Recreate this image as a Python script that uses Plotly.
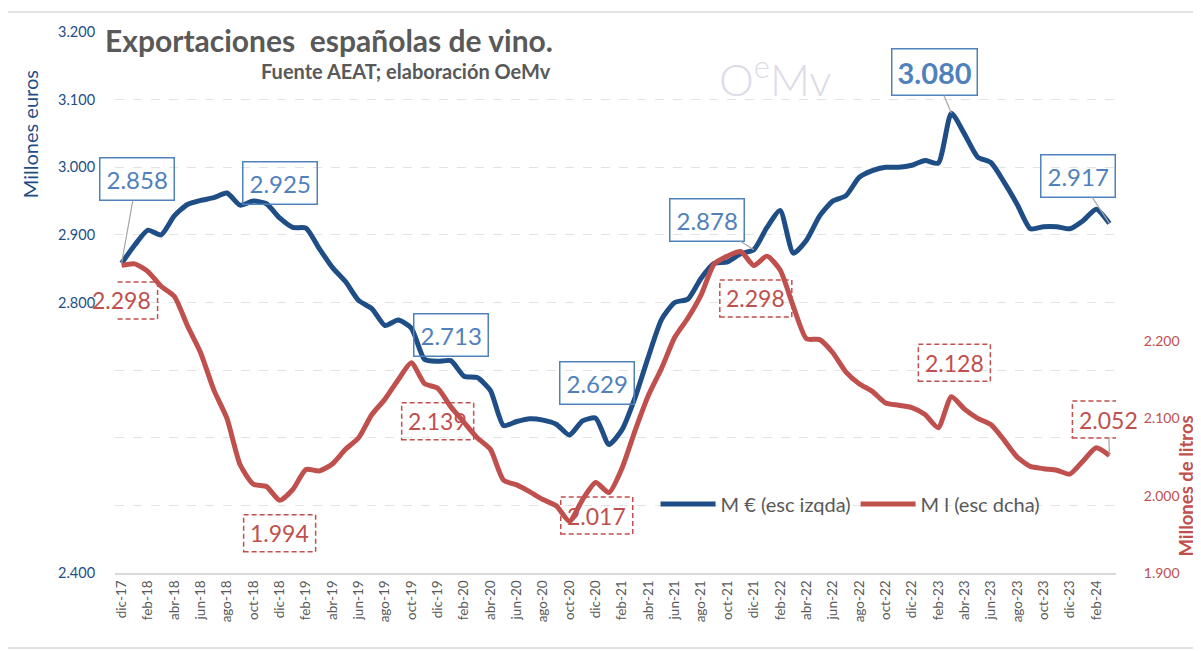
import plotly.graph_objects as go

# ---------------- data ----------------
months = [
    "dic-17",
    "ene-18", "feb-18", "mar-18", "abr-18", "may-18", "jun-18", "jul-18", "ago-18", "sep-18", "oct-18", "nov-18", "dic-18",
    "ene-19", "feb-19", "mar-19", "abr-19", "may-19", "jun-19", "jul-19", "ago-19", "sep-19", "oct-19", "nov-19", "dic-19",
    "ene-20", "feb-20", "mar-20", "abr-20", "may-20", "jun-20", "jul-20", "ago-20", "sep-20", "oct-20", "nov-20", "dic-20",
    "ene-21", "feb-21", "mar-21", "abr-21", "may-21", "jun-21", "jul-21", "ago-21", "sep-21", "oct-21", "nov-21", "dic-21",
    "ene-22", "feb-22", "mar-22", "abr-22", "may-22", "jun-22", "jul-22", "ago-22", "sep-22", "oct-22", "nov-22", "dic-22",
    "ene-23", "feb-23", "mar-23", "abr-23", "may-23", "jun-23", "jul-23", "ago-23", "sep-23", "oct-23", "nov-23", "dic-23",
    "ene-24", "feb-24", "mar-24",
]

# Millones de euros (escala izquierda)
valor_meur = [
    2.858,
    2.885, 2.907, 2.900, 2.928, 2.945, 2.951, 2.955, 2.962, 2.944, 2.950, 2.946, 2.925,
    2.911, 2.910, 2.880, 2.852, 2.831, 2.803, 2.791, 2.766, 2.774, 2.762, 2.716, 2.713,
    2.714, 2.691, 2.689, 2.670, 2.618, 2.624, 2.628, 2.626, 2.620, 2.604, 2.625, 2.629,
    2.590, 2.612, 2.660, 2.720, 2.775, 2.800, 2.805, 2.836, 2.858, 2.860, 2.872, 2.878,
    2.911, 2.936, 2.873, 2.892, 2.928, 2.950, 2.958, 2.985, 2.995, 3.000, 3.000, 3.003,
    3.010, 3.006, 3.080, 3.049, 3.015, 3.007, 2.978, 2.945, 2.909, 2.912, 2.912, 2.909,
    2.921, 2.938, 2.917,
]

# Millones de litros (escala derecha)
volumen_ml = [
    2.298,
    2.300, 2.290, 2.271, 2.258, 2.220, 2.185, 2.137, 2.100, 2.040, 2.015, 2.012, 1.994,
    2.008, 2.034, 2.032, 2.041, 2.060, 2.075, 2.105, 2.125, 2.150, 2.172, 2.145, 2.139,
    2.115, 2.095, 2.075, 2.060, 2.020, 2.014, 2.005, 1.995, 1.987, 1.967, 1.995, 2.017,
    2.004, 2.036, 2.085, 2.130, 2.165, 2.205, 2.230, 2.260, 2.300, 2.310, 2.316, 2.298,
    2.310, 2.292, 2.245, 2.203, 2.202, 2.185, 2.160, 2.145, 2.135, 2.120, 2.117, 2.114,
    2.105, 2.088, 2.128, 2.112, 2.100, 2.092, 2.072, 2.050, 2.038, 2.035, 2.033, 2.028,
    2.045, 2.062, 2.052,
]

tick_labels = months[::2]

left_tickvals = [2.4, 2.5, 2.6, 2.7, 2.8, 2.9, 3.0, 3.1, 3.2]
left_ticktext = ["2.400", "", "", "", "2.800", "2.900", "3.000", "3.100", "3.200"]
right_tickvals = [1.9, 2.0, 2.1, 2.2]
right_ticktext = ["1.900", "2.000", "2.100", "2.200"]

blue_label_idx = [0, 12, 24, 36, 48, 63, 75]
red_label_idx = [0, 12, 24, 36, 48, 63, 75]

# ---------------- styles ----------------
BLUE = "#1F4E87"
RED = "#C0504D"
LBLUE = "#4F81BD"
GRAY = "#595959"
FONT = "Lato"

# pixel offsets (box centre relative to the point) and leader visibility
blue_style = {
    0: (15, -84, True, False),
    12: (0, -35, False, False),
    24: (13, -26, False, False),
    36: (1, -35, False, False),
    48: (-47, -30, True, False),
    63: (-17, -41, True, True),
    75: (-31, -47, True, False),
}
red_style = {
    0: (0, 35, False),
    12: (0, 33, False),
    24: (0, 33, False),
    36: (1, 33, False),
    48: (2, 33, False),
    63: (3, -34, False),
    75: (-1, -36, True),
}

fig = go.Figure()
fig.add_trace(go.Scatter(
    x=months, y=valor_meur, name="M € (esc izqda)", mode="lines",
    line=dict(color=BLUE, width=5, shape="spline", smoothing=0.6),
    yaxis="y",
))
fig.add_trace(go.Scatter(
    x=months, y=volumen_ml, name="M l (esc dcha)", mode="lines",
    line=dict(color=RED, width=5, shape="spline", smoothing=0.6),
    yaxis="y2",
))

annotations = []
shapes = []

for i in blue_label_idx:
    dx, dy, leader, bold = blue_style[i]
    txt = f"{valor_meur[i]:.3f}"
    if bold:
        txt = f"<b>{txt}</b>"
    annotations.append(dict(
        x=months[i], y=valor_meur[i], xref="x", yref="y",
        text=txt, showarrow=True, ax=dx, ay=dy, arrowhead=0,
        arrowwidth=1.2, arrowcolor="#A6A6A6" if leader else "rgba(0,0,0,0)",
        font=dict(family=FONT, size=29 if bold else 24, color=LBLUE),
        bordercolor=LBLUE, borderwidth=1.5, borderpad=5 if bold else 6,
        bgcolor="rgba(255,255,255,0)",
    ))

for i in red_label_idx:
    dx, dy, leader = red_style[i]
    annotations.append(dict(
        x=months[i], y=volumen_ml[i], xref="x", yref="y2",
        text=f"{volumen_ml[i]:.3f}", showarrow=True, ax=dx, ay=dy, arrowhead=0,
        arrowwidth=1.2, arrowcolor="#A6A6A6" if leader else "rgba(0,0,0,0)",
        font=dict(family=FONT, size=23, color=RED),
        borderpad=5, borderwidth=0,
    ))
    shapes.append(dict(
        type="rect", xref="x", yref="y2",
        xsizemode="pixel", ysizemode="pixel",
        xanchor=months[i], yanchor=volumen_ml[i],
        x0=dx - 36, x1=dx + 36, y0=-dy - 18.5, y1=-dy + 18.5,
        line=dict(color=RED, width=1.5, dash="5px,3px"),
        fillcolor="rgba(0,0,0,0)", layer="above",
    ))

# title, subtitle, watermark, axis titles
annotations += [
    dict(text="<b>Exportaciones  españolas de vino.</b>", xref="paper", yref="paper",
         x=-0.012, y=0.985, xanchor="left", yanchor="middle", showarrow=False,
         font=dict(family=FONT, size=30, color=GRAY)),
    dict(text="<b>Fuente AEAT; elaboración OeMv</b>", xref="paper", yref="paper",
         x=0.4376, y=0.928, xanchor="right", yanchor="middle", showarrow=False,
         font=dict(family=FONT, size=20, color=GRAY)),
    dict(text="O<sup>e</sup>Mv", xref="paper", yref="paper",
         x=0.659, y=0.917, xanchor="center", yanchor="middle", showarrow=False,
         font=dict(family=FONT, size=44, color="#DCDCE6", weight=300)),
    dict(text="Millones euros", xref="paper", yref="paper", textangle=-90,
         x=-0.085, y=0.811, xanchor="center", yanchor="middle", showarrow=False,
         font=dict(family=FONT, size=20, color=BLUE)),
    dict(text="<b>Millones de litros</b>", xref="paper", yref="paper", textangle=-90,
         x=1.07, y=0.16, xanchor="center", yanchor="middle", showarrow=False,
         font=dict(family=FONT, size=18.5, color=RED)),
]

# outer frame
shapes.append(dict(type="rect", xref="paper", yref="paper",
                   x0=(5 - 115) / 1001, x1=(1196 - 115) / 1001,
                   y0=(573 - 648) / 541, y1=(573 - 12) / 541,
                   line=dict(color="#D9D9D9", width=1.5), layer="below"))

# the page body has an 8 px margin, so the figure is 8 px smaller and margins compensate
fig.update_layout(
    width=1193, height=643,
    margin=dict(l=107, r=85, t=24, b=78),
    paper_bgcolor="white", plot_bgcolor="white",
    font=dict(family=FONT, color=GRAY),
    showlegend=True,
    legend=dict(orientation="h", x=0.54, y=0.1275, xanchor="left", yanchor="middle",
                font=dict(family=FONT, size=20, color=GRAY), bgcolor="rgba(0,0,0,0)",
                itemwidth=55, traceorder="normal"),
    xaxis=dict(type="category", range=[-0.5, 75.5], tickmode="array",
               tickvals=tick_labels, ticktext=tick_labels, tickangle=-90,
               tickfont=dict(family=FONT, size=13.5, color=GRAY),
               showgrid=False, showline=True, linecolor="#D9D9D9", linewidth=2,
               ticks="", zeroline=False),
    yaxis=dict(range=[2.4, 3.2], tickmode="array", tickvals=left_tickvals,
               ticktext=left_ticktext, tickfont=dict(family=FONT, size=14.5, color=BLUE),
               showgrid=True, gridcolor="#E3E3E3", griddash="dash", gridwidth=1,
               ticks="outside", ticklen=16, tickcolor="rgba(0,0,0,0)",
               zeroline=False, showline=False),
    yaxis2=dict(range=[1.9, 2.6], overlaying="y", side="right", tickmode="array",
                tickvals=right_tickvals, ticktext=right_ticktext,
                tickfont=dict(family=FONT, size=14, color=RED),
                showgrid=False, zeroline=False, showline=False,
                ticks="outside", ticklen=24, tickcolor="rgba(0,0,0,0)"),
    annotations=annotations,
    shapes=shapes,
)

fig.write_html("out.html")
